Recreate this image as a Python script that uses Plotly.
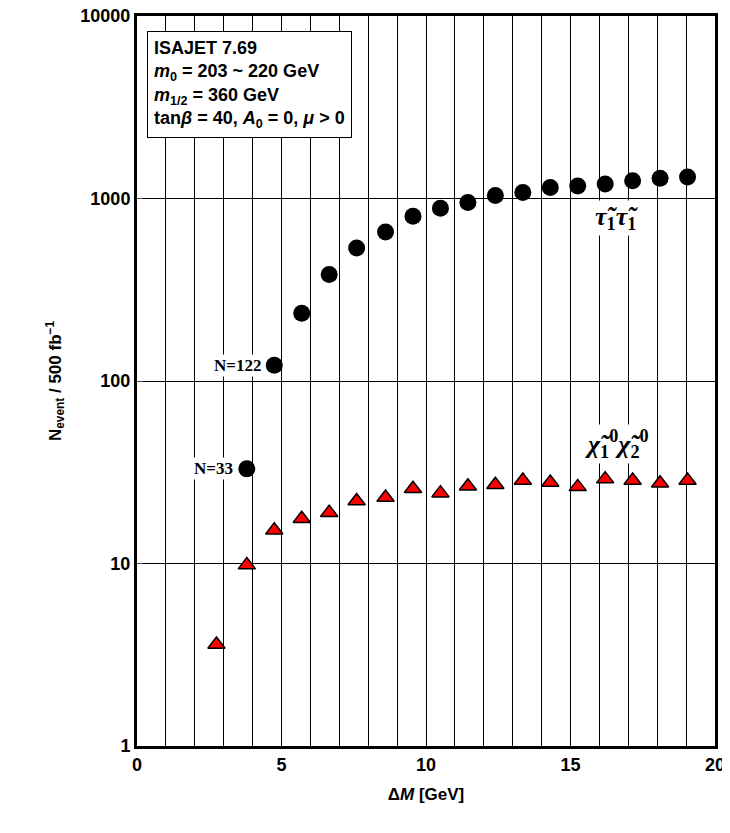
import math
import plotly.graph_objects as go

FONT = 'Liberation Sans, Arial, sans-serif'
SERIF = 'Liberation Serif, Times New Roman, serif'

# stau-stau events
stau_dm = [3.8, 4.75, 5.7, 6.65, 7.6, 8.6, 9.55, 10.5, 11.45, 12.4, 13.35, 14.3, 15.25, 16.2, 17.15, 18.1, 19.05]
stau_n = [33, 122, 235, 383, 535, 655, 800, 885, 950, 1040, 1080, 1150, 1170, 1200, 1250, 1290, 1310]

# chi1-chi2 events
chi_dm = [2.75, 3.8, 4.75, 5.7, 6.65, 7.6, 8.6, 9.55, 10.5, 11.45, 12.4, 13.35, 14.3, 15.25, 16.2, 17.15, 18.1, 19.05]
chi_n = [3.6, 9.8, 15.2, 17.6, 19.0, 22.0, 23.0, 25.7, 24.3, 26.5, 27.0, 28.5, 27.8, 26.3, 29.0, 28.5, 27.5, 28.5]

x_ticks = [0, 5, 10, 15, 20]
y_ticks = [1, 10, 100, 1000, 10000]

fig = go.Figure()
fig.add_trace(go.Scatter(x=stau_dm, y=stau_n, mode='markers',
                         marker=dict(symbol='circle', size=17, color='black')))
fig.add_trace(go.Scatter(x=chi_dm, y=chi_n, mode='markers',
                         marker=dict(symbol='triangle-up', size=15, color='red',
                                     line=dict(color='black', width=1.5))))

# annotations (log axis -> y in log10 units)
fig.add_annotation(x=4.35, y=math.log10(122), text='<b>N=122</b>', showarrow=False, xanchor='right',
                   bgcolor='white', font=dict(family=SERIF, size=17, color='black'))
fig.add_annotation(x=3.4, y=math.log10(33), text='<b>N=33</b>', showarrow=False, xanchor='right',
                   bgcolor='white', font=dict(family=SERIF, size=17, color='black'))
fig.add_annotation(x=16.6, y=math.log10(780), text='<b><i>τ̃</i><sub>1</sub><i>τ̃</i><sub>1</sub></b>',
                   showarrow=False, bgcolor='white', font=dict(family=SERIF, size=26, color='black'))
fig.add_annotation(x=16.6, y=math.log10(45),
                   text='<b><i>χ̃</i><sub>1</sub><sup>0</sup><i>χ̃</i><sub>2</sub><sup>0</sup></b>',
                   showarrow=False, bgcolor='white', font=dict(family=SERIF, size=26, color='black'))
fig.add_annotation(xref='paper', yref='paper', x=0.018, y=0.98, xanchor='left', yanchor='top',
                   align='left', showarrow=False, bgcolor='white', bordercolor='black', borderwidth=1,
                   borderpad=6,
                   text='<b>ISAJET 7.69<br><i>m</i><sub>0</sub> = 203 ~ 220 GeV<br>'
                        '<i>m</i><sub>1/2</sub> = 360 GeV<br>'
                        'tan<i>β</i> = 40, <i>A</i><sub>0</sub> = 0, <i>μ</i> &gt; 0</b>',
                   font=dict(family=FONT, size=18, color='black'))

fig.update_xaxes(range=[0, 20], tickvals=list(range(0, 21)),
                 ticktext=['<b>%d</b>' % v if v in x_ticks else '' for v in range(21)],
                 showline=True, linewidth=3, linecolor='black', automargin=False, ticklabeloverflow='allow',
                 mirror=True, showgrid=True, gridcolor='black', gridwidth=0.7,
                 ticks='', title=dict(text='<b>Δ<i>M</i> [GeV]</b>', font=dict(family=FONT, size=17), standoff=15),
                 tickfont=dict(family=FONT, size=18, color='black'), zeroline=False)
fig.update_yaxes(type='log', range=[0, 4], tickvals=y_ticks, ticktext=['<b>%d</b>' % v for v in y_ticks],
                 showline=True, linewidth=3, linecolor='black', mirror=True, showgrid=True, automargin=False,
                 ticklabeloverflow='allow',
                 gridcolor='black', gridwidth=0.7, ticks='inside', ticklen=6, zeroline=False,
                 title=dict(text='<b>N<sub>event</sub> / 500 fb<sup>−1</sup></b>', font=dict(family=FONT, size=17)),
                 tickfont=dict(family=FONT, size=18, color='black'))

# page keeps an 8px body margin, so size the figure to fit inside the window
fig.update_layout(width=720, height=808, showlegend=False, plot_bgcolor='white', paper_bgcolor='white',
                  margin=dict(l=129, r=13, t=8, b=70), font=dict(family=FONT, color='black'))
fig.write_html('out.html')
